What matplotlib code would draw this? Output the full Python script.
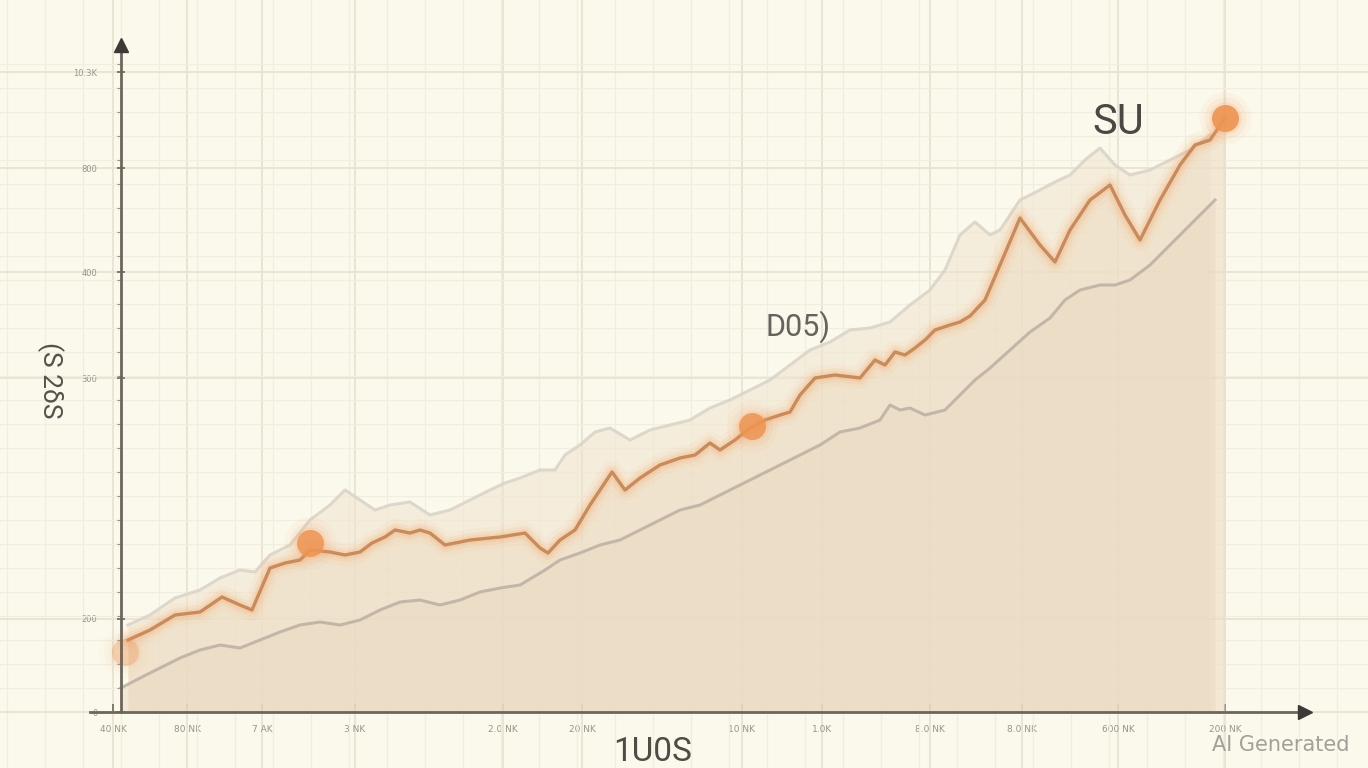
import numpy as np
import matplotlib.pyplot as plt
from matplotlib.ticker import FixedLocator, MultipleLocator

# main series (orange)
main_x = [7, 29, 54, 79, 101, 119, 131, 149, 164, 179, 189, 209, 224, 239, 251, 264, 274, 289,
          299, 309, 324, 349, 379, 404, 419, 427, 439, 454, 469, 479, 491, 504, 519, 539, 559,
          574, 589, 599, 614, 629, 644, 659, 669, 679, 694, 714, 739, 754, 764, 774, 784, 794,
          804, 814, 829, 839, 849, 864, 879, 899, 919, 934, 949, 969, 989, 1004, 1019, 1039,
          1059, 1074, 1089, 1104]
main_y = [72, 82, 97, 100, 115, 107, 102, 144, 149, 152, 162, 160, 157, 160, 169, 175, 182, 179,
          182, 179, 167, 172, 175, 179, 164, 159, 172, 182, 207, 222, 240, 222, 234, 247, 254,
          257, 269, 262, 272, 284, 292, 297, 300, 317, 334, 337, 334, 352, 347, 360, 357, 364,
          372, 382, 387, 390, 396, 412, 447, 494, 467, 450, 482, 512, 527, 497, 472, 512,
          547, 567, 572, 594]

# upper (light) series
upper_x = [7, 29, 54, 79, 99, 119, 134, 149, 169, 189, 209, 224, 239, 254, 269, 289, 309, 329,
           349, 369, 384, 399, 419, 434, 444, 459, 474, 489, 509, 529, 549, 569, 589, 609, 629,
           649, 669, 689, 709, 729, 749, 769, 789, 809, 824, 839, 854, 869, 879, 899, 919, 934,
           949, 964, 979, 994, 1009, 1029, 1049, 1069, 1089]
upper_y = [87, 97, 114, 122, 134, 142, 140, 157, 167, 192, 207, 222, 212, 202, 207, 210, 197, 202,
           212, 222, 229, 234, 242, 242, 257, 267, 280, 284, 272, 282, 287, 292, 304, 312, 322,
           332, 347, 362, 370, 382, 384, 390, 407, 422, 442, 477, 490, 477, 482, 512, 522, 530,
           537, 552, 564, 547, 537, 542, 552, 562, 577]

# lower (grey) series
lower_x = [0, 19, 39, 59, 79, 99, 119, 139, 159, 179, 199, 219, 239, 259, 279, 299, 319, 339,
           359, 379, 399, 424, 439, 459, 479, 499, 519, 539, 559, 579, 599, 619, 639, 659, 679,
           699, 719, 739, 759, 769, 779, 789, 804, 824, 839, 854, 869, 889, 909, 929, 944, 959,
           979, 994, 1009, 1029, 1049, 1069, 1089, 1094]
lower_y = [24, 34, 44, 54, 62, 67, 64, 72, 80, 87, 90, 87, 92, 102, 110, 112, 107, 112,
           120, 124, 127, 142, 152, 159, 167, 172, 182, 192, 202, 207, 217, 227, 237, 247, 257,
           267, 280, 284, 292, 307, 302, 304, 297, 302, 317, 332, 344, 362, 380, 394, 412, 422,
           427, 427, 432, 447, 467, 487, 507, 512]

# highlighted points on the main series
hi_x = [4, 189, 631, 1104]
hi_y = [60, 169, 286, 594]
hi_alpha = [0.35, 0.85, 0.85, 0.9]

y_ticks = [0, 93, 334, 440, 544, 640]
y_labels = ["0", "200", "300", "400", "800", "10.3K"]
x_ticks = [-8, 66, 141, 234, 382, 461, 621, 701, 809, 901, 997, 1104]
x_labels = ["40 NK", "80 NK", "7 AK", "3 NK", "2.0 NK", "20 NK", "10 NK", "1.0K",
            "8.0 NK", "8.0 NK", "600 NK", "200 NK"]

bg = "#FBF8EC"
axis_col = "#6E655C"
orange = "#C98A5C"

fig = plt.figure(figsize=(13.68, 7.68), dpi=100, facecolor=bg)
ax = fig.add_axes([0, 0, 1, 1], facecolor=bg)
ax.set_xlim(-121, 1247)
ax.set_ylim(-56, 712)

# graph-paper grid (minor y ticks only along the drawn axis)
ax.xaxis.set_minor_locator(MultipleLocator(38))
ax.yaxis.set_minor_locator(FixedLocator(np.arange(24, 667, 24)))
ax.grid(which="minor", color="#F1EDDF", linewidth=0.9, zorder=0)
ax.grid(which="major", color="#E9E3D1", linewidth=1.3, zorder=0)
ax.set_axisbelow(True)

# fills
ax.fill_between(upper_x, 0, upper_y, color="#F1E4CF", alpha=0.55, lw=0, zorder=1)
ax.fill_between(main_x, 0, main_y, color="#EDDCC2", alpha=0.55, lw=0, zorder=1)
ax.fill_between(lower_x, 0, lower_y, color="#E9D9C2", alpha=0.5, lw=0, zorder=1)

# lines
ax.plot(upper_x, upper_y, color="#DAD4C9", lw=2.2, alpha=0.9, zorder=2)
ax.plot(lower_x, lower_y, color="#BFB2A4", lw=2.2, alpha=0.9, zorder=2)
for w, a in [(16, 0.08), (10, 0.12), (6, 0.18)]:
    ax.plot(main_x, main_y, color="#F3A86A", lw=w, alpha=a, solid_capstyle="round", zorder=3)
ax.plot(main_x, main_y, color=orange, lw=2.4, zorder=4)

# highlighted points with glow
for xv, yv, al in zip(hi_x, hi_y, hi_alpha):
    for s, a in [(1400, 0.06), (900, 0.1), (550, 0.15)]:
        ax.scatter(xv, yv, s=s, color="#F4A468", alpha=a * al / 0.85, lw=0, zorder=5)
    ax.scatter(xv, yv, s=380, color="#EE9452", alpha=al, lw=0, zorder=6)

# axes lines through the origin
for side in ["top", "right"]:
    ax.spines[side].set_visible(False)
ax.spines["left"].set_position(("data", 0))
ax.spines["bottom"].set_position(("data", 0))
ax.spines["left"].set_bounds(0, 667)
ax.spines["bottom"].set_bounds(-31, 1184)
for side in ["left", "bottom"]:
    ax.spines[side].set_color(axis_col)
    ax.spines[side].set_linewidth(2)
    ax.spines[side].set_zorder(7)
ax.plot(1184, 0, ">", color="#3E3935", ms=10, clip_on=False, zorder=8)
ax.plot(0, 667, "^", color="#3E3935", ms=10, clip_on=False, zorder=8)

ax.yaxis.set_major_locator(FixedLocator(y_ticks))
ax.set_yticklabels(y_labels)
ax.xaxis.set_major_locator(FixedLocator(x_ticks))
ax.set_xticklabels(x_labels)
ax.tick_params(axis="y", which="major", direction="inout", length=6, width=1.2,
               color=axis_col, pad=14, labelsize=6, labelcolor="#9A948A")
ax.tick_params(axis="y", which="minor", direction="out", length=3, width=0.8, color="#9A9188")
ax.tick_params(axis="x", which="major", direction="in", length=6, width=1.2,
               color=axis_col, pad=9, labelsize=6.5, labelcolor="#9A948A")
ax.tick_params(axis="x", which="minor", length=0)

# annotations
ax.text(997, 590, "SU", fontsize=30, color="#4A4744", family="Roboto",
        ha="center", va="center", zorder=9)
ax.text(677, 385, "D05)", fontsize=22, color="#66625E", family="Roboto",
        ha="center", va="center", zorder=9)
ax.text(532, -40, "1U0S", fontsize=24, color="#4F4B47", family="Roboto",
        ha="center", va="center", zorder=9)
ax.text(-71, 332, "(S 2δS", fontsize=19, color="#55514C", family="Roboto", rotation=-90,
        ha="center", va="center", zorder=9)
ax.text(1160, -33, "AI Generated", fontsize=15, color="#A3A09B", family="DejaVu Sans",
        ha="center", va="center", zorder=9)

fig.savefig("out.png", dpi=100, facecolor=bg)
